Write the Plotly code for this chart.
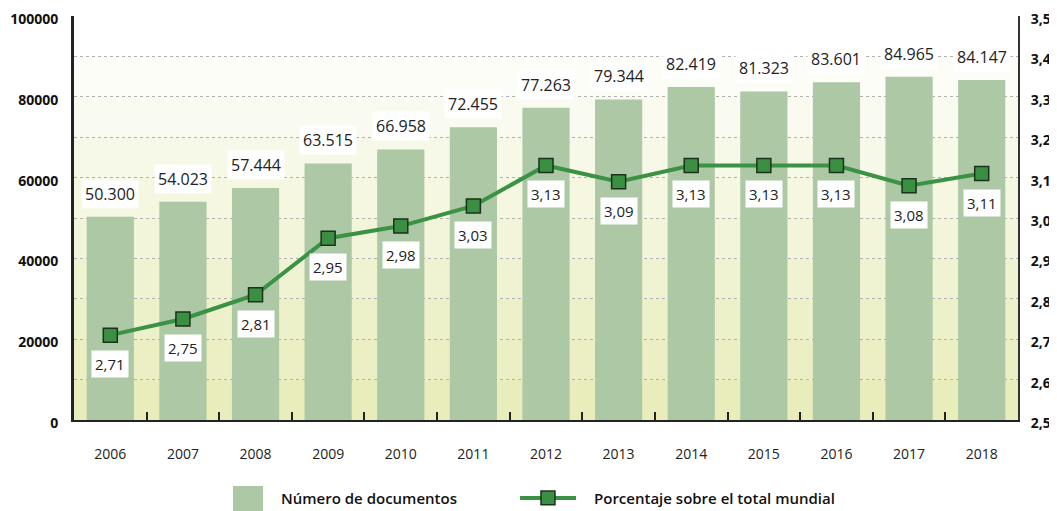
import plotly.graph_objects as go

years = ["2006", "2007", "2008", "2009", "2010", "2011", "2012",
         "2013", "2014", "2015", "2016", "2017", "2018"]
documentos = [50300, 54023, 57444, 63515, 66958, 72455, 77263,
              79344, 82419, 81323, 83601, 84965, 84147]
porcentaje = [2.71, 2.75, 2.81, 2.95, 2.98, 3.03, 3.13,
              3.09, 3.13, 3.13, 3.13, 3.08, 3.11]

left_ticks = list(range(0, 100001, 10000))
left_text = [str(v) if v % 20000 == 0 else "" for v in left_ticks]
right_ticks = [2.5, 2.6, 2.7, 2.8, 2.9, 3.0, 3.1, 3.2, 3.3, 3.4, 3.5]
right_text = [f"{v:.1f}".replace(".", ",") for v in right_ticks]

FONT = "Open Sans"
BAR_COLOR = "#adc8a4"
LINE_COLOR = "#3a9245"
MARKER_COLOR = "#3a8f42"
MARKER_EDGE = "#1d321d"

fig = go.Figure()
fig.add_trace(go.Bar(
    x=years, y=documentos, name="Número de documentos",
    marker=dict(color=BAR_COLOR, line=dict(width=0)),
    width=0.65, yaxis="y", showlegend=False,
))
fig.add_trace(go.Scatter(
    x=years, y=porcentaje, name="Porcentaje sobre el total mundial",
    mode="lines+markers", yaxis="y2", showlegend=False,
    line=dict(color=LINE_COLOR, width=4),
    marker=dict(symbol="square", size=14, color=MARKER_COLOR,
                line=dict(color=MARKER_EDGE, width=1.5)),
))

# background bands (gradient from white at top to pale yellow at bottom)
top = (255, 255, 255)
bot = (232, 237, 187)
for i in range(10):
    t = (9 - i) / 9.0
    c = tuple(round(top[k] + (bot[k] - top[k]) * t) for k in range(3))
    fig.add_shape(type="rect", xref="paper", yref="y",
                  x0=0, x1=1, y0=i * 10000, y1=(i + 1) * 10000,
                  fillcolor=f"rgb{c}", line=dict(width=0), layer="below")

# custom legend (paper coordinates)
fig.add_shape(type="rect", xref="paper", yref="paper",
              x0=0.1684, x1=0.2002, y0=-0.226, y1=-0.1634,
              fillcolor=BAR_COLOR, line=dict(width=0))
fig.add_shape(type="line", xref="paper", yref="paper",
              x0=0.4725, x1=0.5318, y0=-0.193, y1=-0.193,
              line=dict(color=LINE_COLOR, width=4))
fig.add_shape(type="rect", xref="paper", yref="paper",
              x0=0.4947, x1=0.5095, y0=-0.210, y1=-0.176,
              fillcolor=MARKER_COLOR, line=dict(color=MARKER_EDGE, width=1.5))

annotations = []
for i, v in enumerate(documentos):
    annotations.append(dict(
        x=i, y=v, xref="x", yref="y", yshift=23,
        text=f"{v:,}".replace(",", "."), showarrow=False,
        font=dict(family=FONT, size=16, color="#222"),
        bgcolor="white", borderpad=3,
    ))
for i, p in enumerate(porcentaje):
    annotations.append(dict(
        x=i, y=p, xref="x", yref="y2", yshift=-29,
        text=f"{p:.2f}".replace(".", ","), showarrow=False,
        font=dict(family=FONT, size=15, color="#222"),
        bgcolor="white", borderpad=3,
    ))
annotations.append(dict(
    x=0.2172, y=-0.193, xref="paper", yref="paper", xanchor="left",
    yanchor="middle", showarrow=False, text="Número de documentos",
    font=dict(family=FONT, size=15, color="#111", weight=600)))
annotations.append(dict(
    x=0.5487, y=-0.193, xref="paper", yref="paper", xanchor="left",
    yanchor="middle", showarrow=False, text="Porcentaje sobre el total mundial",
    font=dict(family=FONT, size=15, color="#111", weight=600)))

# page body has an 8px margin, so the figure is sized/offset to compensate
fig.update_layout(
    width=1049, height=503,
    margin=dict(l=66, r=39, t=8, b=91, autoexpand=False),
    paper_bgcolor="white", plot_bgcolor="rgba(0,0,0,0)",
    font=dict(family=FONT, color="#222"),
    annotations=annotations,
    showlegend=False,
    xaxis=dict(
        type="category", range=[-0.5, len(years) - 0.5], autorange=False,
        automargin=False,
        showgrid=False, showline=True, linecolor="#222",
        linewidth=2, ticks="inside", tickson="boundaries", ticklen=8,
        tickwidth=2, tickcolor="#222", tickangle=0,
        tickfont=dict(family=FONT, size=14, color="#222"), ticklabelstandoff=20,
    ),
    yaxis=dict(
        range=[0, 100000], autorange=False, automargin=False,
        tickvals=left_ticks, ticktext=left_text,
        showgrid=True, gridcolor="#b0b0b0", griddash="dot", gridwidth=1,
        showline=True, linecolor="#222", linewidth=3, ticks="",
        zeroline=False, ticklabeloverflow="allow",
        tickfont=dict(family=FONT, size=14, color="#111", weight="bold"),
        ticklabelstandoff=10, ticklabelshift=3,
    ),
    yaxis2=dict(
        range=[2.5, 3.5], autorange=False, automargin=False,
        tickvals=right_ticks, ticktext=right_text,
        overlaying="y", side="right", showgrid=False, zeroline=False,
        showline=True, linecolor="#333", linewidth=2, ticks="",
        ticklabeloverflow="allow",
        tickfont=dict(family=FONT, size=14, color="#111", weight="bold"),
        ticklabelstandoff=8, ticklabelshift=3,
    ),
)

fig.write_html("out.html")
